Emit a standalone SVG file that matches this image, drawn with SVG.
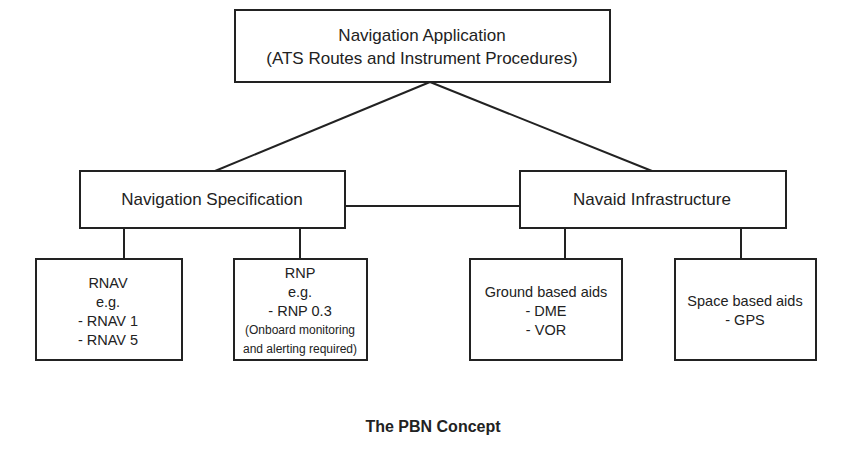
<svg xmlns="http://www.w3.org/2000/svg" width="854" height="449" viewBox="0 0 854 449">
<style>
rect{fill:#fff;stroke:#222;stroke-width:2}
line{stroke:#222;stroke-width:2}
text{font-family:"Liberation Sans",Arial,sans-serif;fill:#222;text-anchor:middle}
.m{font-size:17px}.s{font-size:14.5px}.xs{font-size:12px}
</style>
<rect x="0" y="0" width="854" height="449" style="stroke:none"/>
<g id="connectors">
<line x1="430" y1="82" x2="215" y2="171"/>
<line x1="430" y1="82" x2="652" y2="171"/>
<line x1="345" y1="206" x2="520" y2="206"/>
<line x1="124" y1="228" x2="124" y2="259"/>
<line x1="300" y1="228" x2="300" y2="259"/>
<line x1="565" y1="228" x2="565" y2="259"/>
<line x1="741" y1="228" x2="741" y2="259"/>
</g>
<g id="app"><rect x="235" y="10" width="375" height="72"/>
<text class="m" x="422" y="41">Navigation Application</text>
<text class="m" x="422" y="64">(ATS Routes and Instrument Procedures)</text></g>
<g id="spec"><rect x="80" y="171" width="265" height="57"/>
<text class="m" x="212" y="205">Navigation Specification</text></g>
<g id="navaid"><rect x="520" y="171" width="266" height="57"/>
<text class="m" x="652" y="205">Navaid Infrastructure</text></g>
<g id="rnav"><rect x="36" y="259" width="146" height="101"/>
<text class="s" x="108" y="288">RNAV</text>
<text class="s" x="108" y="307">e.g.</text>
<text class="s" x="108" y="326">- RNAV 1</text>
<text class="s" x="108" y="345">- RNAV 5</text></g>
<g id="rnp"><rect x="234" y="259" width="133" height="101"/>
<text class="s" x="300" y="278">RNP</text>
<text class="s" x="300" y="297">e.g.</text>
<text class="s" x="300" y="316">- RNP 0.3</text>
<text class="xs" x="300" y="334">(Onboard monitoring</text>
<text class="xs" x="300" y="353">and alerting required)</text></g>
<g id="ground"><rect x="470" y="259" width="152" height="101"/>
<text class="s" x="546" y="297">Ground based aids</text>
<text class="s" x="546" y="316">- DME</text>
<text class="s" x="546" y="335">- VOR</text></g>
<g id="space"><rect x="675" y="259" width="141" height="101"/>
<text class="s" x="745" y="306">Space based aids</text>
<text class="s" x="745" y="325">- GPS</text></g>
<text x="433" y="432" style="font-size:16px;font-weight:bold">The PBN Concept</text>
</svg>
